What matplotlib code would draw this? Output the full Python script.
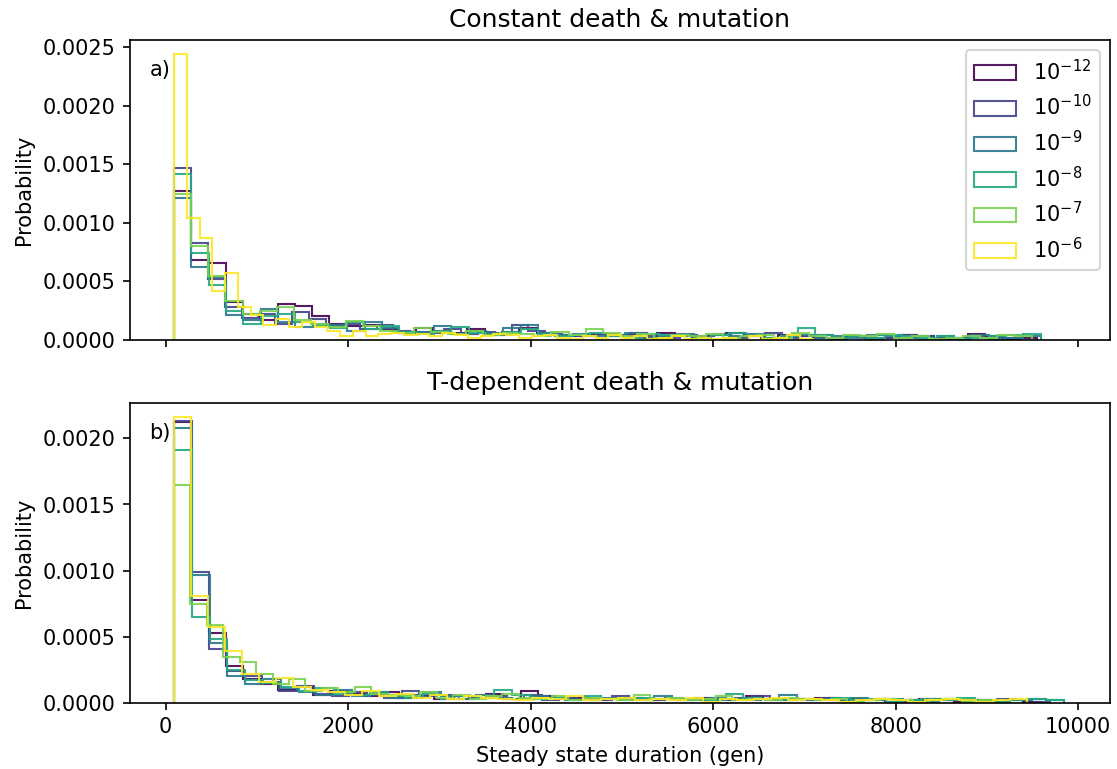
import numpy as np
import matplotlib
matplotlib.use("Agg")
import matplotlib.pyplot as plt

# mutation rates (legend) and per-rate histogram ranges / densities (in units of 1e-5)
rates = ["10^{-12}", "10^{-10}", "10^{-9}", "10^{-8}", "10^{-7}", "10^{-6}"]
n_bins = 50

# constant death & mutation
ranges_a = [(91, 9550), (91, 9340), (91, 9590), (91, 9590), (91, 9490), (91, 7090)]
dens_a_12 = [127, 68, 66, 32, 22, 17, 31, 29, 20, 14, 12, 13, 9, 7, 10, 8, 6, 9, 5, 7,
             10, 6, 4, 3, 5, 3, 4, 2, 6, 3, 2, 4, 6, 3, 2, 4, 3, 2, 1, 3,
             2, 2, 4, 3, 1, 2, 5, 3, 1, 2]
dens_a_10 = [147, 83, 52, 28, 19, 22, 14, 24, 18, 12, 14, 9, 13, 8, 7, 6, 9, 5, 7, 4,
             13, 8, 5, 4, 3, 5, 4, 6, 3, 2, 4, 3, 5, 2, 3, 6, 2, 3, 4, 2,
             3, 1, 2, 4, 3, 2, 1, 3, 2, 2]
dens_a_9 = [121, 62, 54, 21, 17, 26, 15, 11, 14, 13, 8, 15, 10, 6, 7, 12, 5, 8, 6, 10,
            13, 6, 4, 5, 3, 4, 6, 2, 3, 5, 2, 4, 3, 5, 2, 3, 4, 2, 3, 2,
            4, 3, 2, 1, 3, 2, 4, 1, 2, 3]
dens_a_8 = [142, 74, 47, 25, 14, 20, 22, 15, 12, 10, 15, 9, 12, 7, 5, 8, 11, 6, 4, 7,
            9, 5, 3, 4, 6, 3, 2, 5, 4, 3, 2, 4, 6, 3, 2, 3, 10, 4, 2, 3,
            2, 4, 3, 2, 3, 1, 2, 3, 4, 5]
dens_a_7 = [125, 80, 55, 33, 22, 25, 28, 17, 14, 11, 16, 12, 8, 6, 10, 7, 5, 8, 4, 6,
            5, 3, 7, 4, 9, 6, 3, 5, 2, 4, 3, 5, 2, 3, 4, 2, 6, 3, 2, 4,
            3, 5, 2, 3, 1, 2, 3, 2, 4, 3]
dens_a_6 = [244, 104, 87, 42, 57, 28, 21, 13, 18, 11, 15, 11, 8, 3, 8, 3, 5, 6, 4, 5,
            3, 6, 4, 2, 3, 5, 4, 2, 3, 4, 2, 1, 3, 2, 4, 2, 3, 1, 2, 3,
            1, 2, 1, 2, 0, 3, 1, 2, 4, 1]

# T-dependent death & mutation
ranges_b = [(91, 9590), (91, 9690), (91, 9840), (91, 9840), (91, 9090), (91, 9440)]
dens_b_12 = [212, 78, 53, 28, 18, 14, 10, 12, 6, 9, 7, 5, 8, 4, 6, 3, 5, 4, 7, 3,
             9, 5, 3, 4, 2, 3, 4, 2, 3, 2, 4, 3, 2, 5, 3, 2, 3, 4, 2, 3,
             2, 1, 2, 3, 2, 1, 2, 1, 2, 1]
dens_b_10 = [213, 99, 41, 24, 20, 16, 9, 13, 7, 5, 8, 6, 4, 9, 5, 6, 3, 4, 5, 3,
             6, 2, 4, 3, 2, 5, 3, 2, 4, 2, 3, 2, 4, 5, 2, 3, 2, 4, 3, 2,
             3, 1, 2, 3, 2, 2, 1, 3, 2, 1]
dens_b_9 = [208, 97, 45, 20, 14, 18, 11, 8, 6, 10, 5, 7, 4, 6, 8, 5, 3, 6, 4, 3,
            5, 4, 2, 3, 4, 3, 2, 5, 3, 2, 4, 3, 2, 3, 6, 2, 3, 2, 4, 2,
            3, 2, 1, 3, 2, 2, 1, 2, 3, 2]
dens_b_8 = [191, 65, 48, 25, 17, 15, 12, 9, 11, 7, 6, 8, 5, 4, 7, 3, 5, 4, 10, 6,
            3, 4, 2, 5, 3, 2, 4, 3, 2, 3, 2, 7, 4, 3, 2, 3, 2, 4, 2, 3,
            1, 2, 3, 2, 4, 2, 1, 2, 3, 2]
dens_b_7 = [165, 75, 59, 35, 31, 22, 14, 18, 9, 11, 8, 12, 7, 6, 5, 8, 4, 6, 3, 5,
            7, 4, 3, 5, 2, 4, 3, 2, 6, 3, 4, 2, 3, 5, 2, 3, 2, 4, 3, 2,
            3, 1, 2, 3, 2, 1, 2, 3, 1, 2]
dens_b_6 = [216, 81, 57, 39, 22, 16, 19, 12, 10, 8, 6, 9, 5, 7, 4, 6, 3, 5, 4, 3,
            2, 4, 3, 5, 2, 3, 4, 2, 3, 2, 4, 1, 3, 2, 3, 4, 2, 3, 2, 1,
            2, 3, 2, 1, 2, 3, 2, 1, 2, 3]

panels = [
    ("Constant death & mutation", "a)", ranges_a,
     [dens_a_12, dens_a_10, dens_a_9, dens_a_8, dens_a_7, dens_a_6]),
    ("T-dependent death & mutation", "b)", ranges_b,
     [dens_b_12, dens_b_10, dens_b_9, dens_b_8, dens_b_7, dens_b_6]),
]

colors = plt.cm.viridis(np.linspace(0, 1, len(rates)))

fig, axes = plt.subplots(2, 1, figsize=(7.453, 5.127), dpi=150, sharex=True)
fig.subplots_adjust(left=0.116, right=0.993, top=0.948, bottom=0.086, hspace=0.21)

for ax, (title, tag, ranges, dens) in zip(axes, panels):
    for (lo, hi), d, c, r in zip(ranges, dens, colors, rates):
        edges = np.linspace(lo, hi, n_bins + 1)
        ax.hist(edges[:-1], bins=edges, weights=np.array(d) * 1e-5,
                histtype="step", color=c, alpha=0.9, label=f"${r}$")
    ax.set_title(title)
    ax.set_ylabel("Probability")
    ax.text(0.02, 0.9, tag, transform=ax.transAxes, va="center")
    ax.set_xlim(-395, 10350)
    ax.set_ylim(bottom=0)

axes[0].legend(loc="upper right")
axes[1].set_xlabel("Steady state duration (gen)")

fig.savefig("out.png", dpi=150)
